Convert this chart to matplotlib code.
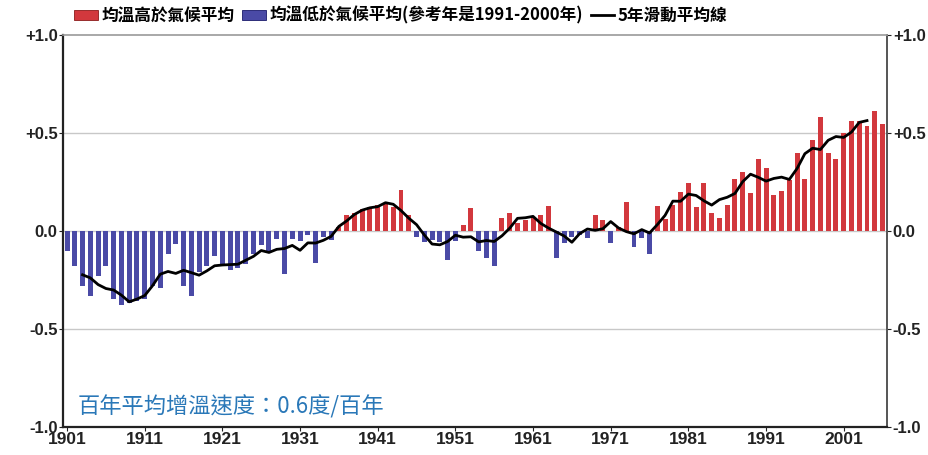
import numpy as np
import pandas as pd
import matplotlib
matplotlib.use("Agg")
import matplotlib.pyplot as plt
from matplotlib.patches import Patch
from matplotlib.lines import Line2D

plt.rcParams['font.family'] = ['Noto Sans CJK TC', 'DejaVu Sans']

# annual temperature anomaly (deg C) relative to 1991-2000
years = np.arange(1901, 2007)
anomaly = [
    -0.10, -0.18, -0.28, -0.33, -0.23, -0.18, -0.35, -0.38, -0.37, -0.36,   # 1901-1910
    -0.35, -0.28, -0.29, -0.12, -0.065, -0.28, -0.33, -0.21, -0.18, -0.13,  # 1911-1920
    -0.17, -0.20, -0.19, -0.17, -0.12, -0.07, -0.10, -0.04, -0.22, -0.04,   # 1921-1930
    -0.05, -0.02, -0.165, -0.03, -0.045, 0.02, 0.08, 0.09, 0.11, 0.12,      # 1931-1940
    0.13, 0.14, 0.12, 0.21, 0.08, -0.03, -0.055, -0.045, -0.055, -0.15,     # 1941-1950
    -0.05, 0.03, 0.115, -0.105, -0.14, -0.18, 0.065, 0.09, 0.04, 0.056,     # 1951-1960
    0.07, 0.08, 0.125, -0.14, -0.063, -0.03, -0.02, -0.037, 0.08, 0.056,    # 1961-1970
    -0.063, 0.02, 0.146, -0.083, -0.037, -0.12, 0.127, 0.06, 0.13, 0.20,    # 1971-1980
    0.243, 0.124, 0.243, 0.094, 0.065, 0.133, 0.264, 0.303, 0.192, 0.366,   # 1981-1990
    0.323, 0.184, 0.206, 0.26, 0.40, 0.264, 0.464, 0.583, 0.40, 0.366,      # 1991-2000
    0.50, 0.56, 0.56, 0.536, 0.614, 0.546,                                  # 2001-2006
]
xtick_years = [1901, 1911, 1921, 1931, 1941, 1951, 1961, 1971, 1981, 1991, 2001]
ytick_vals = [-1.0, -0.5, 0.0, 0.5, 1.0]
ytick_labels = ['-1.0', '-0.5', '0.0', '+0.5', '+1.0']

anom = np.array(anomaly)
# 5-year centred moving average, as in the chart legend
ma5 = pd.Series(anom).rolling(5, center=True).mean().values

red = '#d2383d'
blue = '#4a4aa6'
num_font = ['Liberation Sans', 'DejaVu Sans']

fig = plt.figure(figsize=(9.29, 4.55), dpi=100)
ax = fig.add_axes([0.068, 0.062, 0.887, 0.861])

colors = [red if v >= 0 else blue for v in anom]
ax.bar(years, anom, width=0.64, color=colors, linewidth=0, zorder=2)
ax.plot(years, ma5, color='black', linewidth=2.0, zorder=3)

for y in [-0.5, 0.0, 0.5]:
    ax.axhline(y, color='#c8c8c8', linewidth=1.0, zorder=1)

ax.set_xlim(1900.5, 2006.6)
ax.set_ylim(-1.0, 1.0)
ax.set_xticks(xtick_years)
ax.set_xticklabels([str(y) for y in xtick_years], fontsize=12.5, fontweight='bold',
                   family=num_font)
ax.set_yticks(ytick_vals)
ax.set_yticklabels(ytick_labels, fontsize=12, fontweight='bold', family=num_font)
ax.tick_params(axis='y', which='both', left=True, right=True, labelleft=True,
               labelright=True, length=3, pad=1, colors='#222222')
ax.tick_params(axis='x', length=3, pad=1, colors='#222222')

for side in ['left', 'bottom']:
    ax.spines[side].set_color('#222222')
    ax.spines[side].set_linewidth(1.6)
ax.spines['right'].set_color('#555555')
ax.spines['right'].set_linewidth(1.4)
ax.spines['top'].set_color('#9a9a9a')
ax.spines['top'].set_linewidth(1.2)

handles = [Patch(facecolor=red, edgecolor='#8a1a1a', linewidth=0.6),
           Patch(facecolor=blue, edgecolor='#1a1a6a', linewidth=0.6),
           Line2D([0], [0], color='black', linewidth=2)]
labels = ['均溫高於氣候平均', '均溫低於氣候平均(參考年是1991-2000年)', '5年滑動平均線']
fig.legend(handles, labels, loc='upper left', bbox_to_anchor=(0.064, 1.018), ncol=3,
           frameon=False, handlelength=1.4, handleheight=0.6,
           handletextpad=0.2, columnspacing=0.5, prop={'weight': 'bold', 'size': 12})

ax.text(1902.3, -0.9, '百年平均增溫速度：0.6度/百年', color='#2a78b8', fontsize=16,
        fontweight='medium', ha='left', va='center', zorder=4)

plt.savefig('out.png', dpi=100)
